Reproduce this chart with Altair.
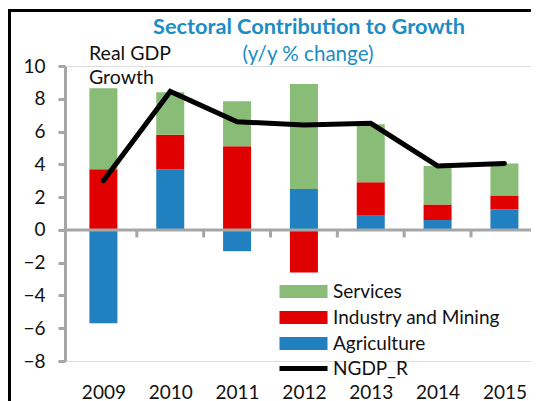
import altair as alt
import pandas as pd

years = [2009, 2010, 2011, 2012, 2013, 2014, 2015]
services = [4.95, 2.6, 2.75, 6.4, 3.55, 2.35, 1.95]
industry = [3.7, 2.1, 5.1, -2.6, 2.0, 0.95, 0.85]
agriculture = [-5.7, 3.7, -1.3, 2.5, 0.9, 0.6, 1.25]
ngdp_r = [3.0, 8.45, 6.6, 6.4, 6.5, 3.9, 4.05]
sectors = ["Services", "Industry and Mining", "Agriculture"]
sector_colors = ["#89BD77", "#E00000", "#2080C0"]
y_ticks = [-8, -6, -4, -2, 0, 2, 4, 6, 8, 10]
boundaries = [2009.5, 2010.5, 2011.5, 2012.5, 2013.5, 2014.5]

FONT = "Lato"
GRAY = "#A6A6A6"
TXT = "#111111"
W, H = 466, 295
STEP = 68.3

rows = []
for i, yr in enumerate(years):
    rows.append({"year": yr, "sector": "Agriculture", "value": agriculture[i], "ord": 0})
    rows.append({"year": yr, "sector": "Industry and Mining", "value": industry[i], "ord": 1})
    rows.append({"year": yr, "sector": "Services", "value": services[i], "ord": 2})
bars_df = pd.DataFrame(rows)
line_df = pd.DataFrame({"year": years, "value": ngdp_r, "series": ["NGDP_R"] * len(years)})
bnd_df = pd.DataFrame({"b": boundaries})

xscale = alt.Scale(domain=[2008.5, 2008.5 + W / STEP], nice=False, zero=False)
yscale = alt.Scale(domain=[-8, 10], nice=False)

xaxis = alt.Axis(values=years, format="d", domain=False, ticks=False, grid=False,
                 labelFont=FONT, labelFontSize=19, labelColor=TXT, labelPadding=22,
                 labelFlush=False, labelOverlap=False, title=None)
yaxis = alt.Axis(values=y_ticks, format="d", grid=False, domainColor=GRAY, domainWidth=3,
                 tickColor=GRAY, tickWidth=3, tickSize=7, labelPadding=13,
                 labelFont=FONT, labelFontSize=19, labelColor=TXT,
                 labelFlush=False, labelOverlap=False, title=None)

bars = alt.Chart(bars_df).mark_bar(size=28).encode(
    x=alt.X("year:Q", scale=xscale, axis=xaxis),
    y=alt.Y("value:Q", scale=yscale, stack="zero", axis=yaxis),
    color=alt.Color("sector:N", title=None,
                    scale=alt.Scale(domain=sectors, range=sector_colors),
                    legend=alt.Legend(orient="none", legendX=229, legendY=216,
                                      symbolType="M-3.43,-0.93H3.43V0.93H-3.43Z", symbolSize=196,
                                      symbolStrokeWidth=0, symbolOpacity=1,
                                      labelFont=FONT, labelFontSize=19, labelColor=TXT,
                                      labelLimit=400,
                                      labelOffset=20, rowPadding=6, padding=0)),
    order=alt.Order("ord:Q", sort="ascending"),
)

zero_line = alt.Chart(alt.Data(values=[{}])).mark_rule(color=GRAY, strokeWidth=3).encode(
    y=alt.YDatum(0, scale=yscale, axis=yaxis), x=alt.value(0), x2=alt.value(W)
)

cat_ticks = alt.Chart(bnd_df).mark_rule(color=GRAY, strokeWidth=3).encode(
    x=alt.X("b:Q", scale=xscale, axis=xaxis),
    y=alt.YDatum(0, scale=yscale, axis=yaxis), y2=alt.Y2Datum(-0.46)
)

line = alt.Chart(line_df).mark_line(strokeWidth=5, strokeCap="round").encode(
    x=alt.X("year:Q", scale=xscale, axis=xaxis),
    y=alt.Y("value:Q", scale=yscale, axis=yaxis),
    color=alt.Color("series:N", title=None,
                    scale=alt.Scale(domain=["NGDP_R"], range=["#000000"]),
                    legend=alt.Legend(orient="none", legendX=229, legendY=293,
                                      symbolType="M-3.43,0H3.43", symbolSize=196,
                                      symbolStrokeWidth=5,
                                      labelFont=FONT, labelFontSize=19, labelColor=TXT,
                                      labelLimit=400,
                                      labelOffset=20, padding=0)),
)

one = alt.Data(values=[{}])
title = alt.Chart(one).mark_text(text="Sectoral Contribution  to Growth", font=FONT, fontSize=21.7,
                                 fontWeight="bold", color="#1B8CC4", align="center",
                                 baseline="alphabetic").encode(x=alt.value(244), y=alt.value(-32))
subtitle = alt.Chart(one).mark_text(text="(y/y % change)", font=FONT, fontSize=20.6,
                                    color="#1B8CC4", align="center",
                                    baseline="alphabetic").encode(x=alt.value(243), y=alt.value(-5))
gdp1 = alt.Chart(one).mark_text(text="Real GDP", font=FONT, fontSize=19.5, color=TXT, align="left",
                                baseline="alphabetic").encode(x=alt.value(24), y=alt.value(-6))
gdp2 = alt.Chart(one).mark_text(text="Growth", font=FONT, fontSize=19.5, color=TXT, align="left",
                                baseline="alphabetic").encode(x=alt.value(24), y=alt.value(18))

frame_top = alt.Chart(one).mark_rule(color="#000000", strokeWidth=3).encode(
    x=alt.value(-57), x2=alt.value(W), y=alt.value(-55.5))
frame_left = alt.Chart(one).mark_rule(color="#000000", strokeWidth=3).encode(
    x=alt.value(-55.5), y=alt.value(-57), y2=alt.value(H + 40))

chart = alt.layer(
    frame_top, frame_left, bars, zero_line, cat_ticks, line, title, subtitle, gdp1, gdp2
).resolve_scale(color="independent").properties(
    width=W, height=H,
    autosize=alt.AutoSizeParams(type="none"),
    padding={"left": 57, "top": 58, "right": 0, "bottom": 40},
).configure_view(stroke=None).configure(background="white")

chart.save("out.html", embed_options={"renderer": "svg", "actions": False})
